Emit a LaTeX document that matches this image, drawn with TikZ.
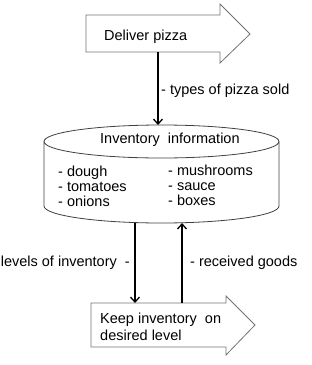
\documentclass[tikz,border=0pt]{standalone}
\usepackage{fontspec}
\setmainfont{Liberation Sans}
\usetikzlibrary{arrows.meta}

\begin{document}
\begin{tikzpicture}[x=1pt, y=-1pt, >={Straight Barb[length=5pt, width=9pt]},
    blockarrow/.style={draw=black!55, line width=0.8pt},
    store/.style={draw=black!75, line width=0.8pt},
    flow/.style={->, line width=1.3pt},
    lbl/.style={font=\fontsize{14.5}{15}\selectfont, inner sep=0pt, anchor=base west}]
    \useasboundingbox (0,0) rectangle (312,365);

    % 1. Mũi tên khối phía trên
    \draw[blockarrow] (86,15) -- (220,15) -- (220,4) -- (250,34)
        -- (220,63) -- (220,52) -- (86,52) -- cycle;
    \node[lbl] (deliver) at (104,40) {Deliver pizza};

    % 2. Kho dữ liệu (hình trụ)
    \draw[store] (44,141.5) -- (44,206)
        arc[start angle=180, end angle=360, x radius=117.5pt, y radius=17pt]
        -- (279,141.5);
    \draw[store] (161.5,141.5) ellipse[x radius=117.5pt, y radius=16.5pt];
    \node[lbl] (inv) at (100,143) {Inventory\ \ information};
    \foreach \item [count=\i] in {dough, tomatoes, onions} {
        \node[lbl] (left\i) at (58, {162+14.7*\i}) {- \item};
    }
    \foreach \item [count=\i] in {mushrooms, sauce, boxes} {
        \node[lbl] (right\i) at (168, {161+14.7*\i}) {- \item};
    }

    % 3. Mũi tên khối phía dưới
    \draw[blockarrow] (91,303) -- (226,303) -- (226,296) -- (255,325)
        -- (226,355) -- (226,347) -- (91,347) -- cycle;
    \node[lbl] (keep1) at (100,323) {Keep inventory\ \ on};
    \node[lbl] (keep2) at (100,340) {desired level};

    % 4. Các điểm nối
    \coordinate (deliverout) at (158,52);
    \coordinate (invtop) at (158,125);
    \coordinate (invout) at (135,223);
    \coordinate (invin) at (182,223);
    \coordinate (keepin) at (135,303);
    \coordinate (keepout) at (182,303);

    % 5. Các luồng
    \draw[flow] (deliverout) -- (invtop);
    \node[lbl] (sold) at (161,94) {- types of pizza sold};
    \draw[flow] (invout) -- (keepin);
    \node[lbl, anchor=base east] (levels) at (130,266.5) {levels of inventory\ \ -};
    \draw[flow] (keepout) -- (invin);
    \node[lbl] (received) at (190,266.5) {- received goods};
\end{tikzpicture}
\end{document}
